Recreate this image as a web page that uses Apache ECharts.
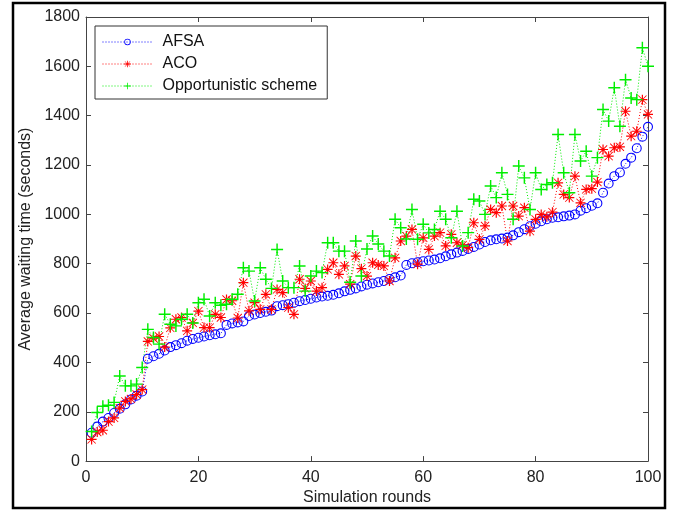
<!DOCTYPE html>
<html>
<head>
<meta charset="utf-8">
<script src="https://cdn.jsdelivr.net/npm/echarts@6/dist/echarts.min.js"></script>
<style>
html,body{margin:0;padding:0;background:#fff;}
#chart{width:675px;height:511px;}
</style>
</head>
<body>
<div id="chart"></div>
<script>
var rounds = [1,2,3,4,5,6,7,8,9,10,11,12,13,14,15,16,17,18,19,20,21,22,23,24,25,26,27,28,29,30,31,32,33,34,35,36,37,38,39,40,41,42,43,44,45,46,47,48,49,50,51,52,53,54,55,56,57,58,59,60,61,62,63,64,65,66,67,68,69,70,71,72,73,74,75,76,77,78,79,80,81,82,83,84,85,86,87,88,89,90,91,92,93,94,95,96,97,98,99,100];

var afsa = [115,140,160,175,195,212,230,250,265,282,415,425,435,448,462,470,478,488,495,500,505,510,514,518,552,558,562,566,588,594,600,605,610,628,632,636,642,648,653,658,663,667,670,674,680,688,694,700,708,715,720,725,730,738,745,752,795,802,806,810,813,817,822,830,838,845,852,860,868,878,888,895,899,902,906,915,928,940,952,962,972,980,986,988,992,995,1000,1015,1025,1035,1045,1088,1125,1155,1170,1205,1230,1268,1315,1355];

var aco = [88,118,125,160,175,215,242,252,270,290,485,498,505,462,540,575,582,528,560,608,541,541,595,582,655,650,580,723,609,642,615,676,615,696,683,622,595,737,700,730,689,703,777,804,757,791,717,831,780,750,804,795,791,730,824,892,912,939,798,905,858,912,926,872,919,885,875,865,966,899,953,1020,1007,1034,892,1034,993,1027,932,980,1000,990,1009,1128,1081,1068,1155,1047,1101,1104,1131,1263,1236,1270,1274,1418,1317,1337,1465,1405];

var opp = [120,197,222,226,238,345,305,305,312,379,534,501,474,595,555,548,575,595,560,642,656,588,642,632,636,656,676,784,770,649,784,737,700,858,730,703,703,791,689,750,770,764,885,885,851,851,725,892,750,860,912,880,851,831,980,946,900,1020,899,960,925,939,1013,980,905,1013,872,926,1061,1054,1000,1115,1068,1169,1081,980,1196,1148,1020,1169,1101,1121,1128,1324,1169,1088,1324,1216,1256,1155,1230,1425,1378,1513,1357,1546,1472,1465,1675,1600];

var seriesNames = ['AFSA','ACO','Opportunistic scheme'];
var xTicks = [0,20,40,60,80,100];
var yTicks = [0,200,400,600,800,1000,1200,1400,1600,1800];

function pairs(ys){ return rounds.map(function(x,i){ return [x, ys[i]]; }); }

var ringPath = 'path://M5,0A5,5 0 1,1 5,10A5,5 0 1,1 5,0ZM5,1.1A3.9,3.9 0 1,0 5,8.9A3.9,3.9 0 1,0 5,1.1Z';
var plusPath = 'path://M4.4,0h1.2v10h-1.2zM0,4.4h10v1.2h-10z';
var starPath = 'path://M4.4,0h1.2v10h-1.2zM0,4.4h10v1.2h-10zM1.2,0.6L9.4,8.8L8.8,9.4L0.6,1.2zM8.8,0.6L9.4,1.2L1.2,9.4L0.6,8.8z';

var font = '"Liberation Sans", Arial, sans-serif';
var labelColor = '#222';
var axisColor = '#444';
var dots = [1,2];

var chart = echarts.init(document.getElementById('chart'), null, {renderer:'canvas'});

var axisCommon = {
  type:'value',
  axisLine:{show:true, onZero:false, lineStyle:{color:axisColor, width:1}},
  axisTick:{show:true, inside:true, length:5, lineStyle:{color:axisColor}},
  splitLine:{show:false}
};
function plain(v){ return String(v); }

chart.setOption({
  animation:false,
  backgroundColor:'#fff',
  textStyle:{fontFamily:font},
  grid:{left:86, top:17, right:27, bottom:49, containLabel:false},
  graphic:[{
    type:'rect', silent:true,
    shape:{x:13, y:3, width:652, height:505},
    style:{fill:'none', stroke:'#000', lineWidth:2.5}
  }],
  legend:{
    show:true,
    data:seriesNames,
    orient:'vertical',
    left:95, top:26,
    padding:[8,10,5,7],
    itemWidth:50, itemHeight:8, itemGap:6,
    borderColor:'#333', borderWidth:1,
    backgroundColor:'#fff',
    lineStyle:{width:1, type:dots},
    textStyle:{fontFamily:font, fontSize:16, color:'#111', lineHeight:16, padding:[0,0,0,5]}
  },
  xAxis:[
    Object.assign({}, axisCommon, {
      min:xTicks[0], max:xTicks[xTicks.length-1], interval:20, position:'bottom',
      name:'Simulation rounds', nameLocation:'middle', nameGap:26,
      nameTextStyle:{fontFamily:font, fontSize:16, color:labelColor},
      axisLabel:{show:true, margin:8, fontFamily:font, fontSize:16, color:labelColor, formatter:plain}
    }),
    Object.assign({}, axisCommon, {
      min:xTicks[0], max:xTicks[xTicks.length-1], interval:20, position:'top',
      axisLabel:{show:false}
    })
  ],
  yAxis:[
    Object.assign({}, axisCommon, {
      min:yTicks[0], max:yTicks[yTicks.length-1], interval:200, position:'left',
      name:'Average waiting time (seconds)', nameLocation:'middle', nameGap:47,
      nameTextStyle:{fontFamily:font, fontSize:16, color:labelColor},
      axisLabel:{show:true, margin:6, fontFamily:font, fontSize:16, color:labelColor, formatter:plain}
    }),
    Object.assign({}, axisCommon, {
      min:yTicks[0], max:yTicks[yTicks.length-1], interval:200, position:'right',
      axisLabel:{show:false}
    })
  ],
  series:[
    {
      name:seriesNames[0], type:'line', data:pairs(afsa),
      xAxisIndex:0, yAxisIndex:0,
      symbol:ringPath, symbolSize:10, showAllSymbol:true,
      lineStyle:{color:'#0000ff', width:1, type:dots},
      itemStyle:{color:'#0000ff'},
      emphasis:{disabled:true}
    },
    {
      name:seriesNames[1], type:'line', data:pairs(aco),
      xAxisIndex:0, yAxisIndex:0,
      symbol:starPath, symbolSize:10, showAllSymbol:true,
      lineStyle:{color:'#ff0000', width:1, type:dots},
      itemStyle:{color:'#ff0000'},
      emphasis:{disabled:true}
    },
    {
      name:seriesNames[2], type:'line', data:pairs(opp),
      xAxisIndex:0, yAxisIndex:0,
      symbol:plusPath, symbolSize:12, showAllSymbol:true,
      lineStyle:{color:'#00ee00', width:1, type:dots},
      itemStyle:{color:'#00ee00'},
      emphasis:{disabled:true}
    }
  ]
});
</script>
</body>
</html>
